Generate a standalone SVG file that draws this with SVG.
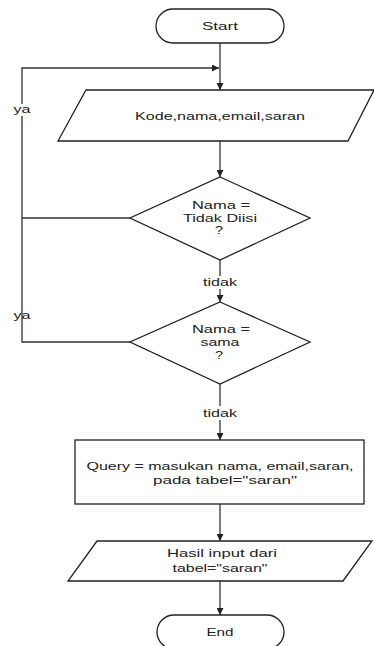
<svg xmlns="http://www.w3.org/2000/svg" width="374" height="646" viewBox="0 0 374 646">
<defs>
<style>
.s{fill:#fff;stroke:#222;stroke-width:1.3}
.c{fill:none;stroke:#333;stroke-width:1.3}
text{font-family:"Liberation Sans",Arial,sans-serif;font-size:11px;fill:#222;text-anchor:middle}
</style>
<marker id="a" viewBox="0 0 10 10" refX="10" refY="5" markerWidth="7" markerHeight="7" markerUnits="userSpaceOnUse" orient="auto"><path d="M0,0L10,5L0,10z" fill="#222"/></marker>
</defs>
<rect width="374" height="646" fill="#fff"/>
<g id="connectors">
<path class="c" d="M220,43V90" marker-end="url(#a)"/>
<path class="c" d="M130,218H22V68H219" marker-end="url(#a)"/>
<path class="c" d="M130,342H22V218"/>
<path class="c" d="M220,141V177" marker-end="url(#a)"/>
<path class="c" d="M220,260V302" marker-end="url(#a)"/>
<path class="c" d="M220,384V440" marker-end="url(#a)"/>
<path class="c" d="M220,504V541" marker-end="url(#a)"/>
<path class="c" d="M220,581V615" marker-end="url(#a)"/>
<rect x="11" y="104" width="22" height="12" fill="#fff"/>
<text x="22" y="113" textLength="17" lengthAdjust="spacingAndGlyphs">ya</text>
<text x="22" y="319" textLength="17" lengthAdjust="spacingAndGlyphs">ya</text>
<rect x="201" y="276" width="38" height="13" fill="#fff"/>
<text x="220" y="286" textLength="34" lengthAdjust="spacingAndGlyphs">tidak</text>
<rect x="201" y="406" width="38" height="14" fill="#fff"/>
<text x="220" y="417" textLength="34" lengthAdjust="spacingAndGlyphs">tidak</text>
</g>
<g id="start">
<rect class="s" x="156" y="9" width="128" height="34" rx="17"/>
<text x="220" y="30" textLength="36" lengthAdjust="spacingAndGlyphs">Start</text>
</g>
<g id="input">
<path class="s" d="M86,90H374L348,141H58Z"/>
<text x="220" y="120" textLength="170" lengthAdjust="spacingAndGlyphs">Kode,nama,email,saran</text>
</g>
<g id="decision1">
<path class="s" d="M220,177L310,218L220,260L130,218Z"/>
<text x="221" y="209" textLength="58" lengthAdjust="spacingAndGlyphs">Nama =</text>
<text x="220" y="222" textLength="74" lengthAdjust="spacingAndGlyphs">Tidak Diisi</text>
<text x="219" y="234" textLength="8" lengthAdjust="spacingAndGlyphs">?</text>
</g>
<g id="decision2">
<path class="s" d="M220,302L310,342L220,384L130,342Z"/>
<text x="221" y="333" textLength="58" lengthAdjust="spacingAndGlyphs">Nama =</text>
<text x="220" y="346" textLength="39" lengthAdjust="spacingAndGlyphs">sama</text>
<text x="219" y="359" textLength="8" lengthAdjust="spacingAndGlyphs">?</text>
</g>
<g id="query">
<rect class="s" x="75" y="440" width="289" height="64"/>
<text x="220" y="470" textLength="267" lengthAdjust="spacingAndGlyphs">Query = masukan nama, email,saran,</text>
<text x="225" y="484" textLength="144" lengthAdjust="spacingAndGlyphs">pada tabel="saran"</text>
</g>
<g id="output">
<path class="s" d="M97,541H372L343,581H68Z"/>
<text x="222" y="557" textLength="110" lengthAdjust="spacingAndGlyphs">Hasil input dari</text>
<text x="220" y="572" textLength="95" lengthAdjust="spacingAndGlyphs">tabel="saran"</text>
</g>
<g id="end">
<rect class="s" x="157" y="615" width="127" height="34" rx="17"/>
<text x="220" y="636" textLength="27" lengthAdjust="spacingAndGlyphs">End</text>
</g>
</svg>
